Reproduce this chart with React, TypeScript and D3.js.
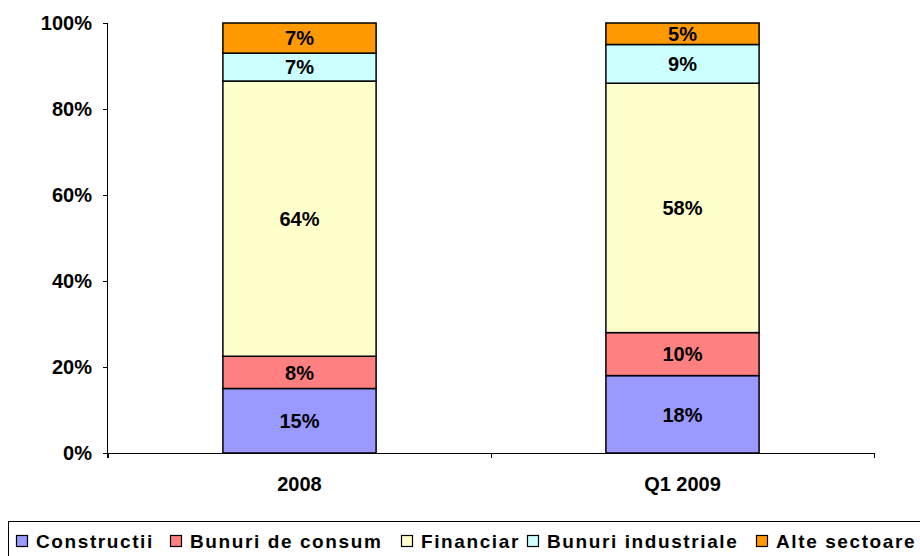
import { useEffect, useRef } from "react";
import * as d3 from "d3";

const categories = ["2008", "Q1 2009"];
const sectors = ["Constructii", "Bunuri de consum", "Financiar", "Bunuri industriale", "Alte sectoare"];
const constructii = [15, 18];
const bunuriConsum = [7.5, 10];
const financiar = [64, 58];
const bunuriIndustriale = [6.5, 9];
const alteSectoare = [7, 5];
const yTicks = [0, 20, 40, 60, 80, 100];

const COLORS = ["#9999ff", "#ff8080", "#ffffcc", "#ccffff", "#ff9900"];
const FONT = "'Liberation Sans', Arial, Helvetica, sans-serif";

const WIDTH = 920;
const HEIGHT = 556;
const MARGIN = { top: 23, right: 46, bottom: 103, left: 108 };

type Row = { cat: string; [k: string]: number | string };

const rows: Row[] = categories.map((c, i) => ({
  cat: c,
  Constructii: constructii[i],
  "Bunuri de consum": bunuriConsum[i],
  Financiar: financiar[i],
  "Bunuri industriale": bunuriIndustriale[i],
  "Alte sectoare": alteSectoare[i],
}));

// legend item x positions (marker left edge)
const legendX = [16, 170, 401, 527, 756];

const App = () => {
  const yAxisRef = useRef<SVGGElement>(null);
  const xAxisRef = useRef<SVGGElement>(null);

  const boundsW = WIDTH - MARGIN.left - MARGIN.right;
  const boundsH = HEIGHT - MARGIN.top - MARGIN.bottom;

  const xScale = d3
    .scaleBand()
    .domain(categories)
    .range([0, boundsW])
    .paddingInner(0.6)
    .paddingOuter(0.3);

  const yScale = d3.scaleLinear().domain([0, 100]).range([boundsH, 0]);

  const series = d3
    .stack<Row>()
    .keys(sectors)
    .value((d, k) => d[k] as number)(rows);

  const colorScale = d3.scaleOrdinal<string>().domain(sectors).range(COLORS);

  useEffect(() => {
    const yg = d3.select(yAxisRef.current);
    yg.selectAll("*").remove();
    yg.call(
      d3
        .axisLeft(yScale)
        .tickValues(yTicks)
        .tickSize(5)
        .tickPadding(11)
        .tickFormat((d) => `${d}%`)
    );
    yg.select(".domain").attr("d", `M-0.5,${boundsH + 5}V0`);

    const xg = d3.select(xAxisRef.current);
    xg.selectAll("*").remove();
    // ticks at the category boundaries, labels at band centres
    const step = xScale.step();
    const bounds = [0, step, boundsW];
    xg.append("path")
      .attr("d", `M0,0.5H${boundsW}`)
      .attr("stroke", "#000")
      .attr("fill", "none");
    xg.selectAll("line.tk")
      .data(bounds)
      .join("line")
      .attr("class", "tk")
      .attr("x1", (d) => Math.round(d) + 0.5)
      .attr("x2", (d) => Math.round(d) + 0.5)
      .attr("y1", 0)
      .attr("y2", 5)
      .attr("stroke", "#000");
    xg.selectAll("text")
      .data(categories)
      .join("text")
      .attr("x", (d) => (xScale(d) as number) + xScale.bandwidth() / 2)
      .attr("y", 38)
      .attr("text-anchor", "middle")
      .text((d) => d);

    [yg, xg].forEach((g) => {
      g.attr("font-family", FONT).attr("font-size", 20).attr("font-weight", "bold");
      g.selectAll("text").attr("fill", "#000");
      g.selectAll("line,path").attr("stroke", "#000");
    });
  }, []);

  return (
    <svg
      width={WIDTH}
      height={HEIGHT}
      style={{ position: "absolute", left: 0, top: 0, background: "#fff" }}
    >
      <g transform={`translate(${MARGIN.left},${MARGIN.top})`}>
        {series.map((s, i) => (
          <g key={s.key}>
            {s.map((d, j) => {
              const x = xScale(d.data.cat) as number;
              const y0 = yScale(d[0]);
              const y1 = yScale(d[1]);
              return (
                <g key={j}>
                  <rect
                    x={x}
                    y={y1}
                    width={xScale.bandwidth()}
                    height={y0 - y1}
                    fill={colorScale(s.key)}
                    stroke="#000"
                    strokeWidth={1.5}
                  />
                  <text
                    x={x + xScale.bandwidth() / 2}
                    y={(y0 + y1) / 2}
                    dy="0.36em"
                    textAnchor="middle"
                    fontFamily={FONT}
                    fontSize={20}
                    fontWeight="bold"
                  >
                    {Math.round(d[1] - d[0])}%
                  </text>
                </g>
              );
            })}
          </g>
        ))}
        <g ref={yAxisRef} />
        <g ref={xAxisRef} transform={`translate(0,${boundsH})`} />
      </g>
      <g>
        <rect x={8.5} y={521.5} width={920} height={40} fill="#fff" stroke="#000" strokeWidth={1} />
        {sectors.map((s, i) => (
          <g key={s} transform={`translate(${legendX[i]},535)`}>
            <rect x={0.5} y={0.5} width={11} height={11} fill={COLORS[i]} stroke="#000" strokeWidth={1.2} />
            <text
              x={20}
              y={12.5}
              fontFamily={FONT}
              fontSize={19}
              fontWeight="bold"
              letterSpacing={1.6}
            >
              {s}
            </text>
          </g>
        ))}
      </g>
    </svg>
  );
};

export default App;
